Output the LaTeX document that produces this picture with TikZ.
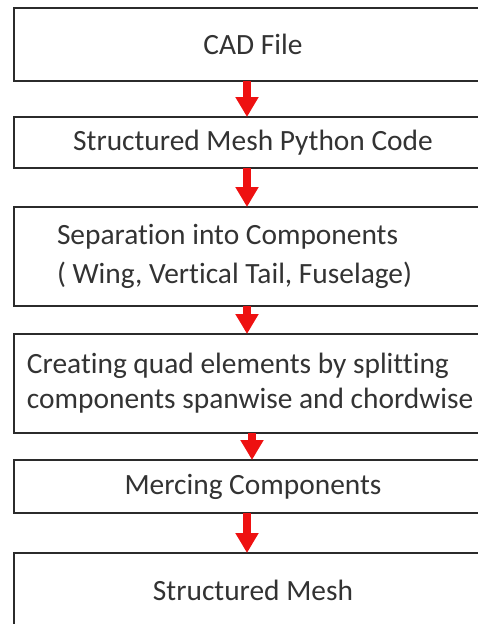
\documentclass[tikz,border=0pt]{standalone}
\usepackage{fontspec}
\setmainfont{Carlito}[Ligatures=NoCommon]
\usetikzlibrary{arrows.meta, positioning}
\definecolor{flowred}{HTML}{EE1111}
\definecolor{flowdark}{HTML}{333333}
\definecolor{flowline}{HTML}{2B2B2B}

\begin{document}
\begin{tikzpicture}[
    x=1pt, y=1pt,
    stage/.style={
      rectangle, draw=flowline, line width=1.6pt, fill=white, text=flowdark,
      font=\fontsize{29.4}{37}\selectfont, minimum width=478pt,
      inner sep=0pt, outer sep=0pt, align=center
    },
    arr/.style={-{Triangle[width=22pt, length=20pt]}, flowred, line width=8pt},
  ]
  \useasboundingbox (0,0) rectangle (478,-624);

  \node[stage, minimum height=73pt] (cad) at (253,-44.5) {CAD File};
  \node[stage, minimum height=51pt, below=36pt of cad] (pycode) {Structured Mesh Python Code};
  \node[stage, minimum height=99pt, below=39pt of pycode, text width=392pt, align=flush left,
    font=\fontsize{29.4}{39}\selectfont] (separate)
    {\mbox{Separation into Components}\\\mbox{( Wing, Vertical Tail, Fuselage)}};
  \node[stage, minimum height=99pt, below=28pt of separate, text width=452pt, align=flush left,
    font=\fontsize{29.4}{35}\selectfont] (quad)
    {\mbox{Creating quad elements by splitting}\\\mbox{components spanwise and chordwise}};
  \node[stage, minimum height=53pt, below=27pt of quad] (merge) {Mercing Components};
  \node[stage, minimum height=74pt, below=40pt of merge] (mesh) {Structured Mesh};

  % Arrows
  \draw[arr] ([xshift=-6pt]cad.south) -- ([xshift=-6pt]pycode.north);
  \draw[arr] ([xshift=-6pt]pycode.south) -- ([xshift=-6pt]separate.north);
  \draw[arr] ([xshift=-6pt]separate.south) -- ([xshift=-6pt]quad.north);
  \draw[arr] ([xshift=-1pt]quad.south) -- ([xshift=-1pt]merge.north);
  \draw[arr] ([xshift=-6pt]merge.south) -- ([xshift=-6pt]mesh.north);

\end{tikzpicture}
\end{document}
